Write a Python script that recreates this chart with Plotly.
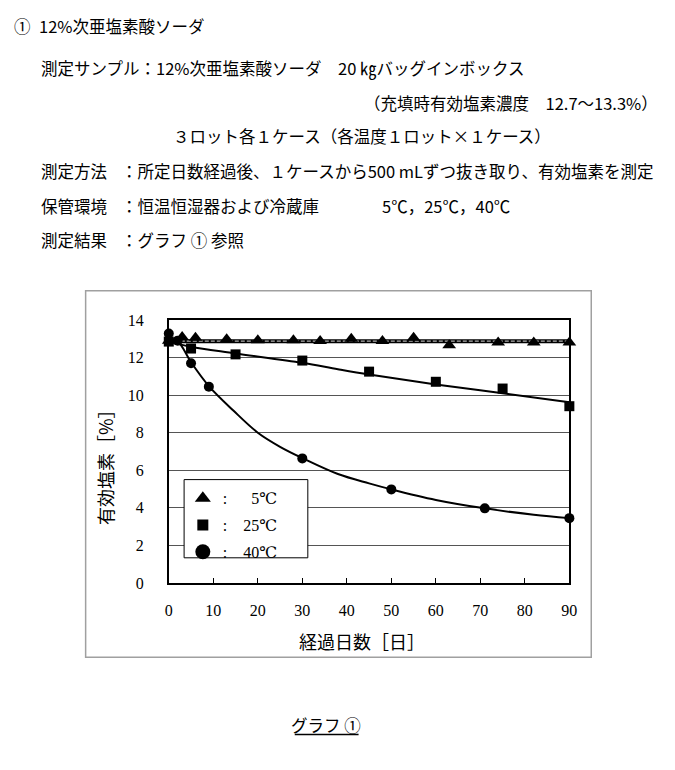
import plotly.graph_objects as go

# ---------------- data ----------------
days_5c = [0, 3, 6, 13, 20, 28, 34, 41, 48, 55, 63, 74, 82, 90]
vals_5c = [12.9, 13.1, 13.05, 12.97, 12.92, 12.92, 12.88, 13.0, 12.88, 13.05, 12.66, 12.8, 12.8, 12.8]
trend_5c_x = [0, 90]
trend_5c_y = [12.87, 12.87]

days_25c = [0, 5, 15, 30, 45, 60, 75, 90]
vals_25c = [12.85, 12.48, 12.17, 11.84, 11.25, 10.71, 10.35, 9.41]
trend_25c_x = [0, 5, 15, 30, 38, 45, 60, 75, 90]
trend_25c_y = [12.86, 12.57, 12.22, 11.72, 11.38, 11.1, 10.57, 10.1, 9.62]

days_40c = [0, 2, 5, 9, 30, 50, 71, 90]
vals_40c = [13.28, 12.9, 11.7, 10.45, 6.63, 4.98, 3.97, 3.45]
trend_40c_x = [0, 2, 5, 9, 14.5, 20, 25, 30, 38, 45, 50, 60, 71, 82, 90]
trend_40c_y = [12.9, 12.85, 11.75, 10.48, 9.18, 8.0, 7.25, 6.65, 5.8, 5.3, 4.98, 4.42, 3.97, 3.63, 3.45]

x_ticks = [0, 10, 20, 30, 40, 50, 60, 70, 80, 90]
y_ticks = [0, 2, 4, 6, 8, 10, 12, 14]

legend_names = [":\u00a0\u00a0\u00a0\u00a0\u00a0\u00a05℃", ":\u00a0\u00a0\u00a0\u00a025℃", ":\u00a0\u00a0\u00a0\u00a040℃"]

x_title = "経過日数［日］"
y_title = "有効塩素［%］"

# ---------------- layout helpers ----------------
# the page adds an 8px body margin; figure is sized so that the page is 675x770
PAGE_W, PAGE_H = 675, 770
OFF = 8
W, H = PAGE_W - 2 * OFF, PAGE_H - 2 * OFF

def px(x):
    return (x - OFF) / W
def py(y):
    return 1 - (y - OFF) / H

JP = "Noto Sans CJK JP"
SERIF = "Liberation Serif, DejaVu Serif, serif"

fig = go.Figure()

# trend lines
fig.add_trace(go.Scatter(x=trend_5c_x, y=trend_5c_y, mode="lines",
                         line=dict(color="black", width=4), showlegend=False, hoverinfo="skip"))
fig.add_trace(go.Scatter(x=trend_5c_x, y=trend_5c_y, mode="lines",
                         line=dict(color="#b0b0b0", width=1.2, dash="4px,2px"), showlegend=False, hoverinfo="skip"))
fig.add_trace(go.Scatter(x=trend_25c_x, y=trend_25c_y, mode="lines", line_shape="spline",
                         line=dict(color="black", width=2), showlegend=False, hoverinfo="skip"))
fig.add_trace(go.Scatter(x=trend_40c_x, y=trend_40c_y, mode="lines", line_shape="spline",
                         line=dict(color="black", width=2), showlegend=False, hoverinfo="skip"))

# markers
fig.add_trace(go.Scatter(x=days_5c, y=vals_5c, mode="markers", cliponaxis=False,
                         marker=dict(symbol="triangle-up", size=12, color="black"),
                         showlegend=False))
fig.add_trace(go.Scatter(x=days_25c, y=vals_25c, mode="markers", cliponaxis=False,
                         marker=dict(symbol="square", size=10, color="black"),
                         showlegend=False))
fig.add_trace(go.Scatter(x=days_40c, y=vals_40c, mode="markers", cliponaxis=False,
                         marker=dict(symbol="circle", size=10, color="black"),
                         showlegend=False))

# legend entries (legend-only symbols, larger like the reference key)
for name, sym, sz, grp in zip(legend_names, ["triangle-up", "square", "circle"], [14, 11, 15], ["a", "b", "c"]):
    fig.add_trace(go.Scatter(x=[None], y=[None], mode="markers", name=name, legendgroup=grp,
                             marker=dict(symbol=sym, size=sz, color="black")))

plot_l, plot_r, plot_t, plot_b = 167.7, 575.7, 319, 588

fig.update_layout(
    width=W, height=H,
    margin=dict(l=0, r=0, t=0, b=0),
    paper_bgcolor="white", plot_bgcolor="white",
    showlegend=True,
    legend=dict(x=px(182), y=py(484), xanchor="left", yanchor="top",
                bgcolor="rgba(0,0,0,0)", borderwidth=0,
                font=dict(family=SERIF, size=16, color="black"),
                tracegroupgap=3, itemsizing="trace"),
    xaxis=dict(domain=[px(plot_l), px(plot_r)], range=[0, 90],
               tickvals=x_ticks, ticktext=[str(v) for v in x_ticks],
               ticks="inside", ticklen=5, tickcolor="black", tickwidth=1,
               showline=True, linecolor="black", linewidth=1.5, mirror=True,
               showgrid=False, zeroline=False, ticklabelstandoff=12,
               tickfont=dict(family=SERIF, size=16, color="black")),
    yaxis=dict(domain=[py(plot_b), py(plot_t)], range=[0, 14],
               tickvals=y_ticks, ticktext=[str(v) for v in y_ticks],
               ticks="", showline=True, linecolor="black", linewidth=1.5, mirror=True,
               showgrid=True, gridcolor="#555555", gridwidth=1, zeroline=False,
               ticklabelstandoff=20,
               tickfont=dict(family=SERIF, size=16, color="black")),
)

shapes = [
    # outer chart frame
    dict(type="rect", xref="paper", yref="paper", x0=px(83), x1=px(598), y0=py(664), y1=py(289),
         line=dict(color="#a0a0a0", width=1.5), fillcolor="rgba(0,0,0,0)", layer="below"),
    # legend box
    dict(type="rect", xref="paper", yref="paper", x0=px(183.3), x1=px(309.3), y0=py(562.3), y1=py(482.3),
         line=dict(color="black", width=1), fillcolor="white", layer="above"),
    # underline of caption
    dict(type="line", xref="paper", yref="paper", x0=px(296), x1=px(361), y0=py(743), y1=py(743),
         line=dict(color="black", width=1.5)),
]
fig.update_layout(shapes=shapes)

def txt(x, y, s, size=16.5, anchor="left", family=JP, angle=0):
    fig.add_annotation(x=px(x), y=py(y), xref="paper", yref="paper", text=s, showarrow=False,
                       xanchor=anchor, yanchor="middle", textangle=angle,
                       font=dict(family=family, size=size, color="black"))

# header text
txt(8, 18, "①")
txt(33, 18, "12%次亜塩素酸ソーダ")
txt(35, 61, "測定サンプル：12%次亜塩素酸ソーダ　20 ㎏バッグインボックス")
txt(668, 97, "（充填時有効塩素濃度　12.7～13.3%）", anchor="right")
txt(170, 131, "３ロット各１ケース（各温度１ロット×１ケース）")
txt(35, 167, "測定方法")
txt(117, 167, "：所定日数経過後、１ケースから500 mLずつ抜き取り、有効塩素を測定")
txt(35, 202, "保管環境")
txt(117, 202, "：恒温恒湿器および冷蔵庫")
txt(383, 202, "5℃，25℃，40℃")
txt(35, 237, "測定結果")
txt(117, 237, "：グラフ ① 参照")

# axis titles
txt(365, 647, x_title, size=18, anchor="center")
txt(102, 465, y_title, size=18, anchor="center", angle=-90)

# caption
txt(328, 733, "グラフ ①", anchor="center")

fig.write_html("out.html", config={"displayModeBar": False})
